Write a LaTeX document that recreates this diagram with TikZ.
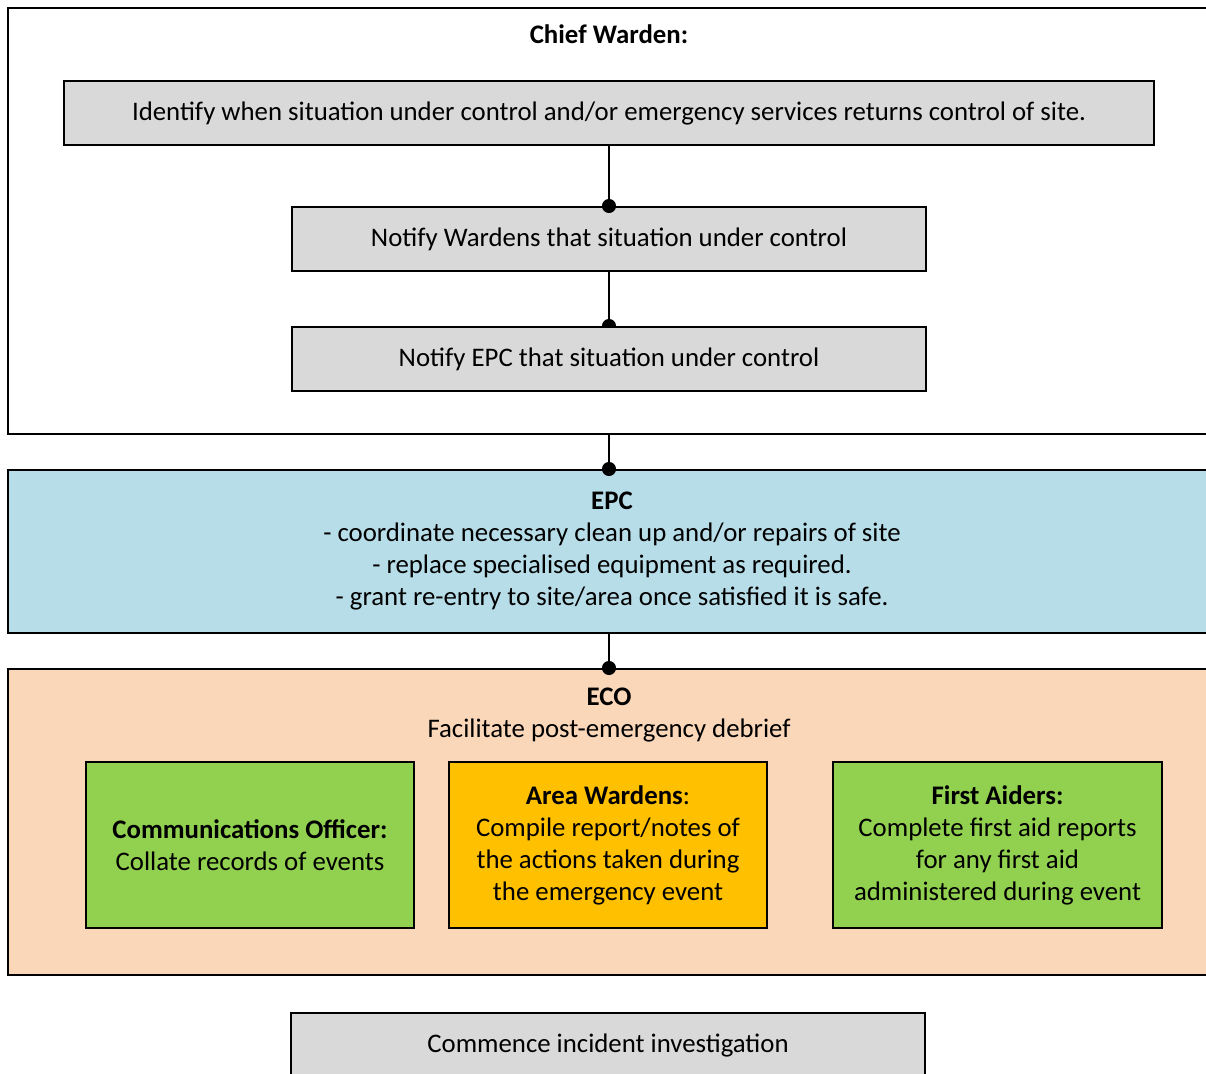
\documentclass[tikz,border=0pt]{standalone}
\usepackage{fontspec}
\setmainfont{Carlito}
\usetikzlibrary{positioning}
\usetikzlibrary{backgrounds}
\usetikzlibrary{arrows.meta}

\definecolor{boxgray}{HTML}{D9D9D9}
\definecolor{epcblue}{HTML}{B7DDE8}
\definecolor{ecopeach}{HTML}{FAD7B9}
\definecolor{rolegreen}{HTML}{92D050}
\definecolor{roleamber}{HTML}{FFC000}

\begin{document}
\begin{tikzpicture}[x=0.5pt, y=-0.5pt,
        every node/.style={font=\fontsize{13.4}{16}\selectfont, align=center},
        internal/.style={draw, line width=1pt, fill=boxgray, inner sep=0pt, minimum height=32pt},
        frame/.style={draw, line width=1pt, inner sep=0pt, anchor=north west, minimum width=604pt},
        role/.style={draw, line width=1pt, inner sep=0pt, minimum height=83pt},
        dotline/.style={draw, line width=1pt, -{Circle[length=7pt, width=7pt]}, shorten >=-3.5pt}]
        \useasboundingbox (0,0) rectangle (1206,1073);

        % Chief Warden
        \node[frame, minimum height=213pt](chief) at (7,7) {};
        \node(chieflabel) at (609,34) {\textbf{Chief Warden:}};
        \node[internal, minimum width=545pt](identify) at (609,113) {Identify when situation under control and/or emergency services returns control of site.};
        \node[internal, minimum width=317pt](notifywardens) at (609,239) {Notify Wardens that situation under control};
        \node[internal, minimum width=317pt](notifyepc) at (609,359) {Notify EPC that situation under control};

        % EPC
        \node[frame, fill=epcblue, minimum height=81.5pt](epc) at (7,469) {\textbf{EPC}\\- coordinate necessary clean up and/or repairs of site\\- replace specialised equipment as required.\\- grant re-entry to site/area once satisfied it is safe.};

        % ECO
        \node[frame, fill=ecopeach, minimum height=153pt](eco) at (7,668) {};
        \node(ecolabel) at (609,715) {\textbf{ECO}\\Facilitate post-emergency debrief};
        \node[role, fill=rolegreen, minimum width=164pt](comms) at (250,845) {\textbf{Communications Officer:}\\Collate records of events};
        \node[role, fill=roleamber, minimum width=159pt](areawardens) at (608,845) {\textbf{Area Wardens}:\\Compile report/notes of\\the actions taken during\\the emergency event};
        \node[role, fill=rolegreen, minimum width=164.5pt](firstaiders) at (997.5,845) {\textbf{First Aiders:}\\Complete first aid reports\\for any first aid\\administered during event};

        \node[internal, minimum width=317pt](investigate) at (608,1045) {Commence incident investigation};

        \draw[dotline] (identify.south) -- (notifywardens.north);
        \begin{scope}[on background layer]
        	\draw[dotline] (notifywardens.south) -- (notifyepc.north);
        \end{scope}
        \draw[dotline] (notifyepc |- chief.south) -- (notifyepc |- epc.north);
        \draw[dotline] (notifyepc |- epc.south) -- (notifyepc |- eco.north);
\end{tikzpicture}
\end{document}
